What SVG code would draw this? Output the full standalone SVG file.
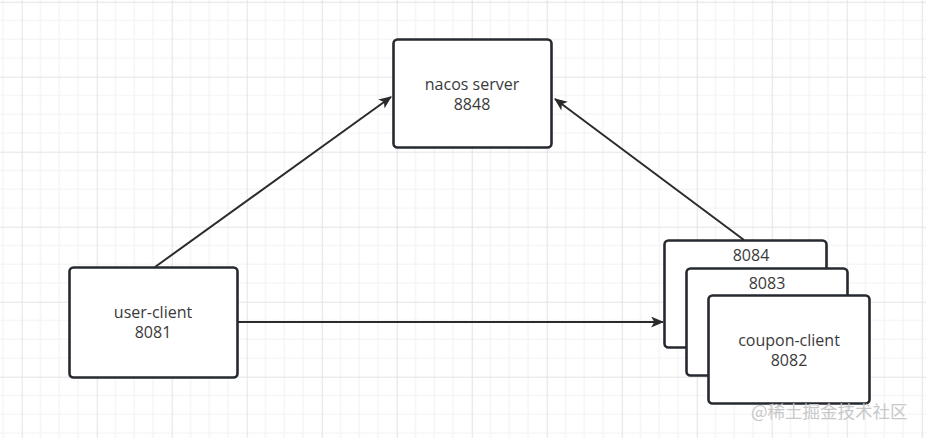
<svg xmlns="http://www.w3.org/2000/svg" width="926" height="438" viewBox="0 0 926 438">
<defs>
<pattern id="grid" x="21.7" y="1.7" width="75" height="75" patternUnits="userSpaceOnUse">
<path d="M18.75 0V75M37.5 0V75M56.25 0V75M0 18.75H75M0 37.5H75M0 56.25H75" stroke="#f2f2f2" stroke-width="1.2" fill="none"/>
<path d="M0.5 0V75M0 0.5H75" stroke="#e4e4e4" stroke-width="1.2" fill="none"/>
</pattern>
<marker id="arr" viewBox="0 0 12 10" refX="11" refY="5" markerWidth="13" markerHeight="11" markerUnits="userSpaceOnUse" orient="auto">
<path d="M0 0L12 5L0 10L3 5Z" fill="#2b2b2b"/>
</marker>
</defs>
<style>
.box{fill:#fff;stroke:#262a30;stroke-width:2.6}
.t{font-family:"Open Sans","Noto Sans","Liberation Sans",sans-serif;font-size:16px;fill:#3a3a3a;text-anchor:middle}
.c{stroke:#2b2b2b;stroke-width:2;fill:none;marker-end:url(#arr)}
.wm{font-family:"Noto Sans CJK SC","Noto Sans",sans-serif;font-size:17.5px;fill:#c8c8c8}
</style>
<rect width="926" height="438" fill="#fff"/>
<rect width="926" height="438" fill="url(#grid)"/>
<g id="connectors">
<path class="c" d="M155 267L391 97"/>
<path class="c" d="M744 240L555 99"/>
<path class="c" d="M238 322L663 322"/>
</g>
<g id="nacos">
<rect class="box" x="393.5" y="39.5" width="158" height="108" rx="4"/>
<text class="t" x="472" y="90">nacos server</text>
<text class="t" x="472" y="110">8848</text>
</g>
<g id="user-client">
<rect class="box" x="69.5" y="267.5" width="168" height="110" rx="4"/>
<text class="t" x="153" y="318">user-client</text>
<text class="t" x="153" y="338">8081</text>
</g>
<g id="c8084">
<rect class="box" x="664.5" y="240.5" width="162" height="107" rx="4"/>
<text class="t" x="751" y="261">8084</text>
</g>
<g id="c8083">
<rect class="box" x="686.5" y="268.5" width="161" height="107" rx="4"/>
<text class="t" x="767" y="289">8083</text>
</g>
<g id="coupon-client">
<rect class="box" x="708.5" y="295.5" width="161" height="108" rx="4"/>
<text class="t" x="789" y="346">coupon-client</text>
<text class="t" x="789" y="366">8082</text>
</g>
<text class="wm" x="751" y="418">@稀土掘金技术社区</text>
</svg>
